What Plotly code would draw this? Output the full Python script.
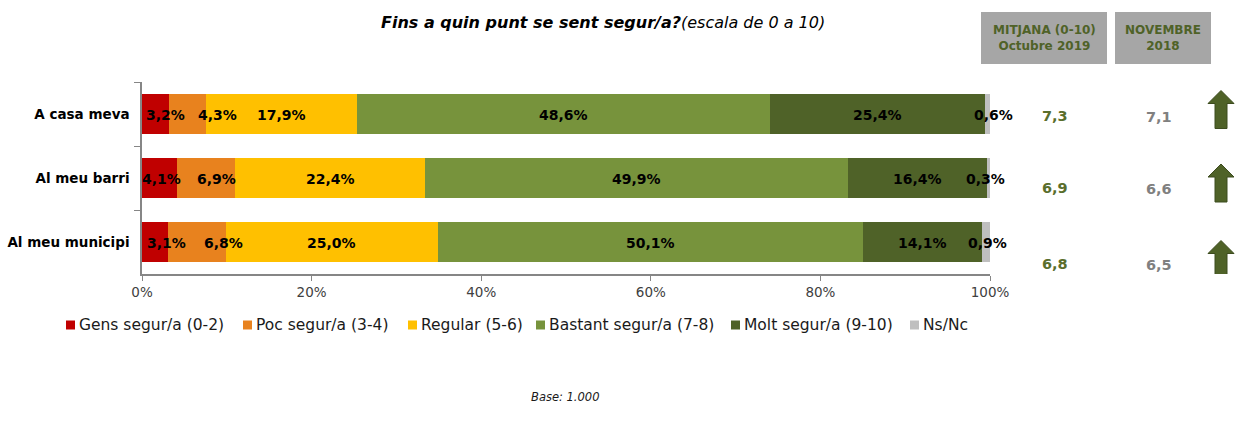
import plotly.graph_objects as go

# ---------------- data ----------------
categories = ["A casa meva", "Al meu barri", "Al meu municipi"]
series_names = ["Gens segur/a (0-2)", "Poc segur/a (3-4)", "Regular (5-6)",
                "Bastant segur/a (7-8)", "Molt segur/a (9-10)", "Ns/Nc"]
gens = [3.2, 4.1, 3.1]
poc = [4.3, 6.9, 6.8]
regular = [17.9, 22.4, 25.0]
bastant = [48.6, 49.9, 50.1]
molt = [25.4, 16.4, 14.1]
nsnc = [0.6, 0.3, 0.9]
mitjana_2019 = [7.3, 6.9, 6.8]
mitjana_2018 = [7.1, 6.6, 6.5]
x_ticks = [0, 20, 40, 60, 80, 100]

series_values = [gens, poc, regular, bastant, molt, nsnc]
colors = ["#c00000", "#e8821e", "#ffc000", "#77933c", "#4f6228", "#bfbfbf"]

# label horizontal nudges in pixels (per series, per row) to mimic original placement
label_xshift = [[10, 2, 11], [30, 10, 26], [0, 0, 0], [0, 0, 0], [0, 0, 0], [6, -3, 1]]

FONT = "DejaVu Sans"
OLIVE = "#4f6228"

# ---------------- layout geometry (pixels) ----------------
W, H = 1250, 429
L, R, T, B = 142, 260, 82, 155
PW, PH = W - L - R, H - T - B


def px(p):
    return (p - L) / PW


def py(p):
    return (T + PH - p) / PH


def fmt(v, suffix="%"):
    return f"{v:.1f}".replace(".", ",") + suffix


fig = go.Figure()
for name, vals, col in zip(series_names, series_values, colors):
    fig.add_trace(go.Bar(
        y=categories, x=vals, name=name, orientation="h",
        marker=dict(color=col, line=dict(width=0)),
        showlegend=False, hoverinfo="skip",
    ))

shapes = []
annotations = []

# data labels (centered on segments computed from the stacked values)
cum = [0.0] * len(categories)
for s, vals in enumerate(series_values):
    for i, cat in enumerate(categories):
        annotations.append(dict(text=f"<b>{fmt(vals[i])}</b>", x=cum[i] + vals[i] / 2, y=cat,
                                xref="x", yref="y", xshift=label_xshift[s][i], yshift=-1,
                                showarrow=False, xanchor="center", yanchor="middle",
                                font=dict(family=FONT, size=14, color="black")))
        cum[i] += vals[i]

# custom legend (square + text), positions in pixels
leg_sq_x = [66, 243, 408, 536, 731, 910]
leg_y = 325
for name, col, sx in zip(series_names, colors, leg_sq_x):
    shapes.append(dict(type="rect", xref="paper", yref="paper",
                       x0=px(sx), x1=px(sx + 9), y0=py(leg_y + 4.5), y1=py(leg_y - 4.5),
                       fillcolor=col, line=dict(width=0)))
    annotations.append(dict(text=name, xref="paper", yref="paper",
                            x=px(sx + 11), y=py(leg_y), xanchor="left", yanchor="middle",
                            showarrow=False, font=dict(family=FONT, size=15.5, color="#1a1a1a")))

# title
annotations.append(dict(
    text="<b><i>Fins a quin punt se sent segur/a?</i></b><i>(escala de 0 a 10)</i>",
    xref="paper", yref="paper", x=px(603), y=py(22), xanchor="center", yanchor="middle",
    showarrow=False, font=dict(family=FONT, size=16, color="black")))

# base
annotations.append(dict(text="<i>Base: 1.000</i>", xref="paper", yref="paper",
                        x=px(565), y=py(397), xanchor="center", yanchor="middle",
                        showarrow=False, font=dict(family=FONT, size=11.5, color="#1a1a1a")))

# header boxes
headers = [("MITJANA (0-10)<br>Octubre 2019", 981, 1107), ("NOVEMBRE<br>2018", 1115, 1211)]
for txt, x0, x1 in headers:
    shapes.append(dict(type="rect", xref="paper", yref="paper",
                       x0=px(x0), x1=px(x1), y0=py(64), y1=py(12),
                       fillcolor="#a6a6a6", line=dict(width=0)))
    annotations.append(dict(text=f"<b>{txt}</b>", xref="paper", yref="paper",
                            x=px((x0 + x1) / 2), y=py(38), xanchor="center", yanchor="middle",
                            showarrow=False, font=dict(family=FONT, size=12, color=OLIVE)))

# mean values and arrows
val_shift = [-1.5, -10, -21.5]
arrow_shift = [4.5, -5, -17.5]
for i, cat in enumerate(categories):
    annotations.append(dict(text=f"<b>{fmt(mitjana_2019[i], '')}</b>", xref="paper", yref="y",
                            x=px(1055), y=cat, yshift=val_shift[i], showarrow=False,
                            xanchor="center", yanchor="middle",
                            font=dict(family=FONT, size=14.5, color="#5a6e2c")))
    annotations.append(dict(text=f"<b>{fmt(mitjana_2018[i], '')}</b>", xref="paper", yref="y",
                            x=px(1159), y=cat, yshift=val_shift[i] - 1, showarrow=False,
                            xanchor="center", yanchor="middle",
                            font=dict(family=FONT, size=14.5, color="#808080")))
    d = 1 if mitjana_2019[i] >= mitjana_2018[i] else -1
    s = arrow_shift[i]
    pts = [(-6, -19), (6, -19), (6, 6), (13, 6), (0, 19), (-13, 6), (-6, 6)]
    path = "M " + " L ".join(f"{x},{d * y + s}" for x, y in pts) + " Z"
    shapes.append(dict(type="path", xref="paper", yref="y",
                       xsizemode="pixel", ysizemode="pixel",
                       xanchor=px(1221), yanchor=i, path=path,
                       fillcolor=OLIVE, line=dict(color="#3d4c1f", width=1)))

fig.update_layout(
    width=W, height=H,
    margin=dict(l=L, r=R, t=T, b=B, autoexpand=False),
    barmode="stack", bargap=0.36,
    plot_bgcolor="white", paper_bgcolor="white",
    font=dict(family=FONT),
    shapes=shapes, annotations=annotations,
    showlegend=False,
    xaxis=dict(range=[0, 100], tickvals=x_ticks, ticktext=[f"{v}%" for v in x_ticks],
               showgrid=False, zeroline=False, showline=True, linecolor="#868686", linewidth=1.5,
               ticks="outside", ticklen=5, tickcolor="#868686",
               tickfont=dict(family=FONT, size=13.5, color="#404040")),
    yaxis=dict(categoryorder="array", categoryarray=categories, autorange="reversed",
               showgrid=False, zeroline=False, showline=True, linecolor="#868686", linewidth=1.5,
               ticks="outside", ticklen=6, tickcolor="#868686", tickson="boundaries",
               ticklabelstandoff=8,
               tickfont=dict(family=FONT, size=13.5, color="black", weight="bold")),
)

fig.write_html("out.html", config={"displayModeBar": False},
               post_script="document.body.style.margin='0px';")
